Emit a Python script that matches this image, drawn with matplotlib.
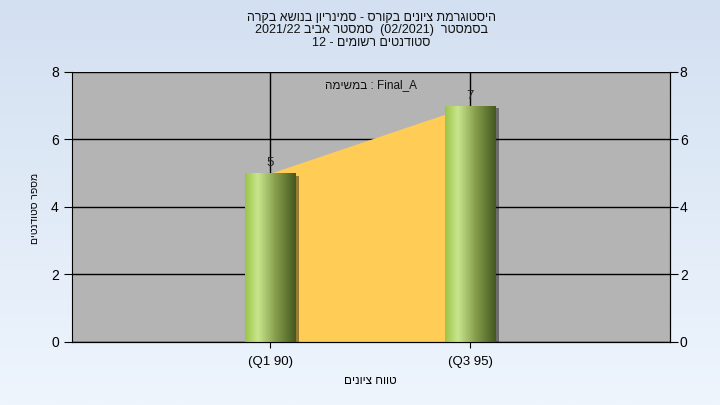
import re
import matplotlib
matplotlib.use('Agg')
import matplotlib.pyplot as plt
import matplotlib.patheffects as pe
from matplotlib.colors import LinearSegmentedColormap
import numpy as np

plt.rcParams['font.family'] = ['Liberation Sans', 'DejaVu Sans']

# נתונים
categories = ['(Q1 90)', '(Q3 95)']
counts = [5, 7]
title_lines = [
    'היסטוגרמת ציונים בקורס - סמינריון בנושא בקרה',
    'בסמסטר  (02/2021)  סמסטר אביב 2021/22',
    'סטודנטים רשומים - 12',
]
task_label = 'Final_A : במשימה'
x_label = 'טווח ציונים'
y_label = 'מספר סטודנטים'


def rtl(s):
    # matplotlib has no bidi support: put RTL text into visual order
    mirror = str.maketrans('()', ')(')
    tokens = re.findall(r'[A-Za-z0-9_/.]+|[^A-Za-z0-9_/.]', s)
    out = []
    for t in reversed(tokens):
        if re.match(r'[A-Za-z0-9_/.]', t):
            out.append(t)
        else:
            out.append(t.translate(mirror))
    return ''.join(out)


fig = plt.figure(figsize=(7.2, 4.05), dpi=100)

# רקע מדורג
bg = fig.add_axes([0, 0, 1, 1], zorder=-10)
grad = np.linspace(0, 1, 256).reshape(-1, 1)
bg.imshow(grad, aspect='auto', extent=[0, 1, 0, 1],
          cmap=LinearSegmentedColormap.from_list('bg', ['#d3e0f1', '#eef5fd']))
bg.axis('off')

ax = fig.add_axes([0.1, 0.1556, 0.8306, 0.6667])
ax.set_facecolor('#b4b4b4')
x = np.arange(len(categories))

# שטח צהוב בין העמודות
ax.fill_between(x, counts, color='#ffcc55', zorder=2, lw=0)

bar_cmap = LinearSegmentedColormap.from_list(
    'bar', [(0, '#9cc448'), (0.25, '#c9e68d'), (0.6, '#869e4c'), (1, '#44591f')])
bars = ax.bar(x, counts, width=0.25, color='#9cc448', zorder=3, lw=0)
hgrad = np.linspace(0, 1, 128).reshape(1, -1)
for b in bars:
    b.set_path_effects([pe.SimplePatchShadow(offset=(3, -2), shadow_rgbFace='black', alpha=0.4),
                        pe.Normal()])
    im = ax.imshow(hgrad, aspect='auto', cmap=bar_cmap, zorder=4,
                   extent=[b.get_x(), b.get_x() + b.get_width(), 0, b.get_height()])
    im.set_clip_path(b)
    ax.annotate(str(int(b.get_height())), (b.get_x() + b.get_width() / 2, b.get_height()),
                xytext=(0, 3), textcoords='offset points', ha='center', va='bottom',
                fontsize=9.5, color='#222222', zorder=5)

ax.set_xlim(-0.99, 2.0)
ax.set_ylim(0, 8)
ax.set_yticks([0, 2, 4, 6, 8])
ax.set_xticks(x)
ax.set_xticklabels(categories, fontsize=9.5)
ax.tick_params(axis='y', labelsize=10, direction='out', length=6, colors='black')
ax.tick_params(axis='x', direction='out', length=4, pad=6)
ax.grid(True, color='black', lw=1, zorder=1)
ax.set_axisbelow(True)
ax.spines['top'].set_visible(False)
for s in ['left', 'right', 'bottom']:
    ax.spines[s].set_color('black')

ax2 = ax.twinx()
ax2.set_ylim(0, 8)
ax2.set_yticks([0, 2, 4, 6, 8])
ax2.tick_params(axis='y', labelsize=10, direction='out', length=6, pad=1)
ax2.spines['top'].set_visible(False)
ax2.spines['left'].set_visible(False)

ax.text(0.5, 0.95, rtl(task_label), transform=ax.transAxes, ha='center', va='center',
        fontsize=8.5, color='#111111', zorder=6)

for i, line in enumerate(title_lines):
    fig.text(0.516, 1 - (18 + 12.5 * i) / 405, rtl(line), ha='center', va='center',
             fontsize=9, color='#111111')

fig.text(0.514, 1 - 381 / 405, rtl(x_label), ha='center', va='center', fontsize=8.5)
fig.text(35 / 720, 1 - 208 / 405, rtl(y_label), ha='center', va='center', fontsize=7.5,
         rotation=90)

fig.savefig('out.png', dpi=100)
